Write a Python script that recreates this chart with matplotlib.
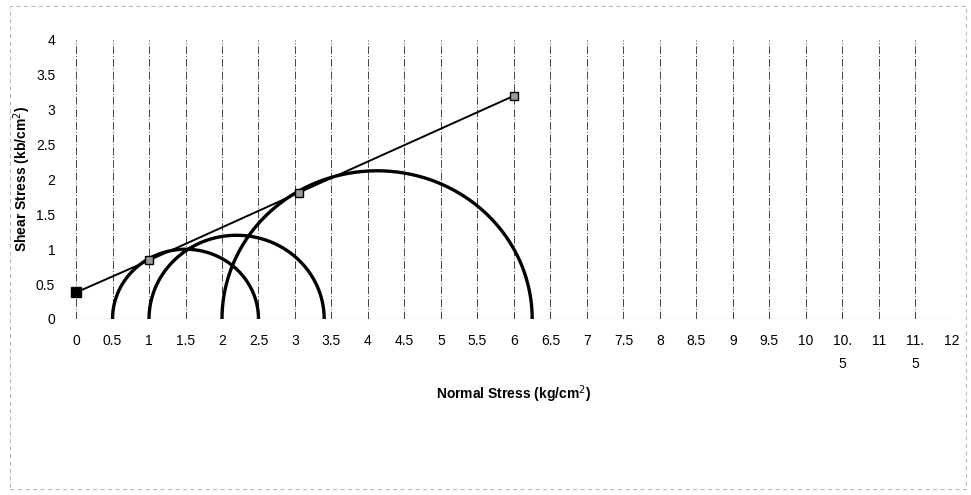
import numpy as np
import matplotlib
matplotlib.use("Agg")
from matplotlib import pyplot as plt
from matplotlib.patches import Rectangle

plt.rcParams['font.family'] = ['Liberation Sans', 'DejaVu Sans']

# Mohr circles: minor and major principal stress
sigma3 = [0.5, 1.0, 2.0]
sigma1 = [2.5, 3.4, 6.25]

# failure envelope points
env_x = [0, 1, 3.05, 6]
env_y = [0.38, 0.84, 1.81, 3.2]

x_ticks = [i * 0.5 for i in range(25)]
x_labels = ['0', '0.5', '1', '1.5', '2', '2.5', '3', '3.5', '4', '4.5', '5', '5.5',
            '6', '6.5', '7', '7.5', '8', '8.5', '9', '9.5', '10', '10.\n5', '11', '11.\n5', '12']
y_ticks = [0, 0.5, 1, 1.5, 2, 2.5, 3, 3.5, 4]
y_labels = ['0', '0.5', '1', '1.5', '2', '2.5', '3', '3.5', '4']

fig = plt.figure(figsize=(9.71, 4.95), dpi=100)
ax = fig.add_axes([0.0783, 0.3556, 0.902, 0.5636])

# chart area border (dashed, faint like the scan)
fig.patches.append(Rectangle((0.01, 0.012), 0.985, 0.975, transform=fig.transFigure,
                             fill=False, edgecolor='#aaaaaa', lw=0.6, ls=(0, (5, 4))))

# vertical gridlines
for xt in x_ticks:
    ax.axvline(xt, color='#444444', lw=0.7, ls=(0, (8, 2, 1, 2)), zorder=1)
ax.axhline(0, color='#444444', lw=0.8, ls=(0, (6, 2)), zorder=1)

# circles
for s3, s1 in zip(sigma3, sigma1):
    c = (s1 + s3) / 2
    r = (s1 - s3) / 2
    t = np.linspace(np.pi, 0, 200)
    ax.plot(c + r * np.cos(t), r * np.sin(t), color='black', lw=2.4, zorder=3)

# envelope
ax.plot(env_x, env_y, color='black', lw=1.4, zorder=4)
ax.plot(env_x[:1], env_y[:1], 's', color='black', ms=7, zorder=5, clip_on=False)
ax.plot(env_x[1:], env_y[1:], 's', mfc='#999999', mec='black', mew=1.0, ms=6, zorder=5,
        clip_on=False)

ax.set_xlim(0, 12)
ax.set_ylim(0, 4)
ax.set_xticks(x_ticks)
ax.set_xticklabels(x_labels, fontsize=10, linespacing=1.75, va='top')
ax.set_yticks(y_ticks)
ax.set_yticklabels(y_labels, fontsize=10)
ax.tick_params(length=0, pad=11)
ax.tick_params(axis='y', pad=15)
for s in ax.spines.values():
    s.set_visible(False)

ax.set_xlabel('Normal Stress (kg/cm$^2$)', fontsize=10, fontweight='bold', labelpad=9)
ax.set_ylabel('Shear Stress (kb/cm$^2$)', fontsize=10, fontweight='bold', labelpad=2)

fig.savefig('out.png', dpi=100)
